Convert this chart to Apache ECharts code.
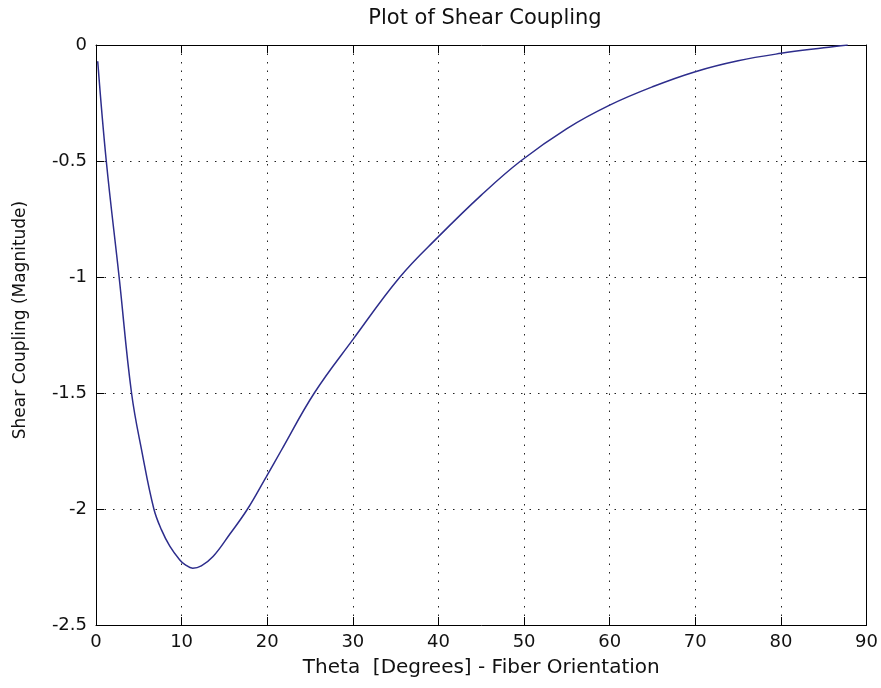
<!DOCTYPE html>
<html>
<head>
<meta charset="utf-8">
<script src="https://cdn.jsdelivr.net/npm/echarts@6/dist/echarts.min.js"></script>
<style>html,body{margin:0;padding:0;background:#fff;}#chart{width:881px;height:688px;}</style>
</head>
<body>
<div id="chart"></div>
<script>
const chartTitle = 'Plot of Shear Coupling';
const xAxisTitle = 'Theta  [Degrees] - Fiber Orientation';
const yAxisTitle = 'Shear Coupling (Magnitude)';
const thetaDeg = [0.2, 1.2, 2.7, 4.15, 5.4, 6.76, 7.65, 8.62, 9.79, 10.4, 11.3, 12.3, 13.67, 15.6, 17.7, 19.9, 21.6, 25.5, 30, 35.5, 40, 45, 49.6, 55, 60, 65, 70, 75, 80, 85, 87.8];
const shearCoupling = [-0.07, -0.5, -1.0, -1.5, -1.76, -2.0, -2.09, -2.16, -2.22, -2.24, -2.255, -2.245, -2.205, -2.11, -2.0, -1.86, -1.75, -1.5, -1.27, -1.0, -0.826, -0.647, -0.5, -0.36, -0.259, -0.18, -0.115, -0.068, -0.036, -0.012, 0];
const xTicks = {min: 0, max: 90, interval: 10};
const yTicks = {min: -2.5, max: 0, interval: 0.5};

const FONT = 'DejaVu Sans';
const chart = echarts.init(document.getElementById('chart'), null, {renderer: 'canvas'});
const gridDash = {color: '#222', width: 1, type: [1.5, 7]};
const boxLine = {show: true, onZero: false, lineStyle: {color: '#000', width: 1}};
const innerTick = {show: true, inside: true, length: 8, lineStyle: {color: '#000', width: 1}};

chart.setOption({
  backgroundColor: '#fff',
  animation: false,
  title: {
    text: chartTitle, left: 480, top: 3, textAlign: 'center',
    textStyle: {fontFamily: FONT, fontSize: 21, fontWeight: 'normal', color: '#111'}
  },
  grid: {left: 96, top: 45, right: 13, bottom: 63},
  xAxis: [{
    type: 'value', position: 'bottom', min: xTicks.min, max: xTicks.max, interval: xTicks.interval,
    name: xAxisTitle, nameLocation: 'middle', nameGap: 33,
    nameTextStyle: {fontFamily: FONT, fontSize: 20, color: '#111'},
    axisLine: boxLine, axisTick: innerTick,
    axisLabel: {fontFamily: FONT, fontSize: 18, color: '#111', margin: 8},
    splitLine: {show: true, lineStyle: gridDash}
  }, {
    type: 'value', position: 'top', min: xTicks.min, max: xTicks.max, interval: xTicks.interval,
    axisLine: boxLine, axisTick: innerTick, axisLabel: {show: false}, splitLine: {show: false}
  }],
  yAxis: [{
    type: 'value', position: 'left', min: yTicks.min, max: yTicks.max, interval: yTicks.interval,
    axisLine: boxLine, axisTick: innerTick,
    axisLabel: {fontFamily: FONT, fontSize: 18, color: '#111', margin: 9},
    splitLine: {show: true, lineStyle: gridDash}
  }, {
    type: 'value', position: 'right', min: yTicks.min, max: yTicks.max, interval: yTicks.interval,
    axisLine: boxLine, axisTick: innerTick, axisLabel: {show: false}, splitLine: {show: false}
  }],
  graphic: [{
    type: 'text', x: 21, y: 320, rotation: Math.PI / 2,
    style: {text: yAxisTitle, fontFamily: FONT, fontSize: 17, fill: '#111', align: 'center', verticalAlign: 'middle'}
  }],
  series: [{
    type: 'line', xAxisIndex: 0, yAxisIndex: 0,
    data: thetaDeg.map((t, i) => [t, shearCoupling[i]]),
    showSymbol: false, smooth: 0.4,
    lineStyle: {color: '#2d2d8c', width: 1.5},
    itemStyle: {color: '#2d2d8c'}
  }]
});
</script>
</body>
</html>
